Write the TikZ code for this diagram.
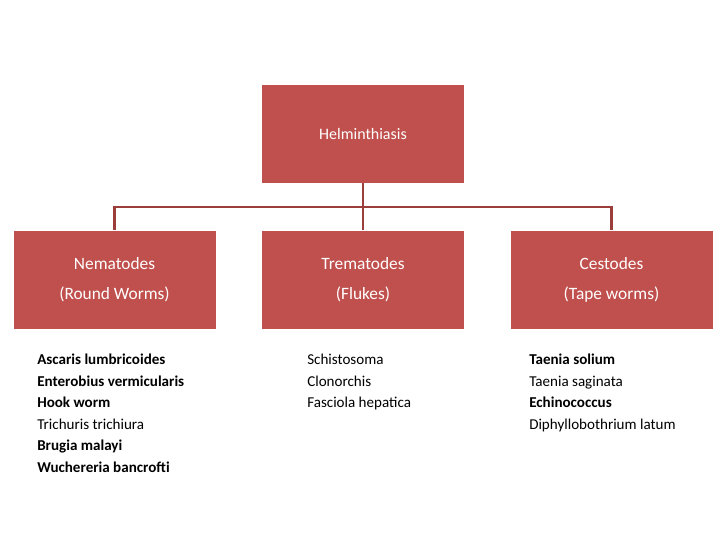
\documentclass[tikz,border=0pt]{standalone}
\usepackage{fontspec}
\setmainfont{Carlito}
\definecolor{boxred}{HTML}{C0504D}
\definecolor{linered}{HTML}{9B3D3B}
\begin{document}
\begin{tikzpicture}[x=0.75pt,y=-0.75pt,
  box/.style={fill=boxred,draw=none,minimum width=151.5pt,minimum height=73.5pt,inner sep=0pt,text=white,align=center,font=\fontsize{13}{22.5}\selectfont},
  conn/.style={draw=linered,line width=2.2pt},
  lst/.style={anchor=north west,align=left,inner sep=0pt,font=\fontsize{11.3}{16.1}\selectfont}]
\useasboundingbox (0,0) rectangle (720,540);
\node[box,font=\fontsize{12}{14}\selectfont] (top) at (363,134) {Helminthiasis};
\node[box] (nem) at (114.5,279.5) {Nematodes\\(Round Worms)};
\node[box] (tre) at (363,279.5) {Trematodes\\(Flukes)};
\node[box] (ces) at (611.5,279.5) {Cestodes\\(Tape worms)};
\coordinate (j) at (363,207);
\draw[conn] (top.south) -- (j);
\draw[conn] (nem.north) |- (j) -| (ces.north);
\draw[conn] (j) -- (tre.north);
\node[lst] (l1) at (37,354) {\textbf{Ascaris lumbricoides}\\\textbf{Enterobius vermicularis}\\\textbf{Hook worm}\\Trichuris trichiura\\\textbf{Brugia malayi}\\\textbf{Wuchereria bancrofti}};
\node[lst] (l2) at (307,354) {Schistosoma\\Clonorchis\\Fasciola hepatica};
\node[lst] (l3) at (529,354) {\textbf{Taenia solium}\\Taenia saginata\\\textbf{Echinococcus}\\Diphyllobothrium latum};
\end{tikzpicture}
\end{document}
